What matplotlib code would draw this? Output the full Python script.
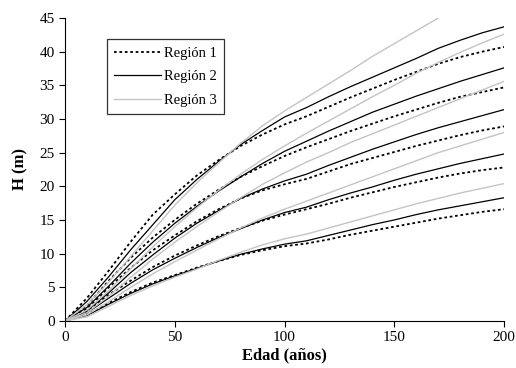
import numpy as np
import matplotlib
matplotlib.use("Agg")
import matplotlib.pyplot as plt

plt.rcParams['font.family'] = ['Liberation Serif', 'DejaVu Serif']

# age (years)
edad = [0, 10, 20, 30, 40, 50, 60, 70, 80, 90, 100,
        110, 120, 130, 140, 150, 160, 170, 180, 190, 200]

# Region 1 (dotted) - five site index curves, top to bottom
r1_a = [0, 3.4, 7.5, 11.8, 15.8, 18.8, 21.6, 23.9, 26.0, 27.7, 29.2,
        30.4, 31.8, 33.2, 34.5, 35.8, 37.0, 38.2, 39.2, 40.0, 40.7]
r1_b = [0, 2.3, 6.0, 9.4, 12.4, 15.0, 17.4, 19.5, 21.4, 23.0, 24.5,
        25.8, 27.0, 28.2, 29.3, 30.4, 31.4, 32.4, 33.3, 34.0, 34.7]
r1_c = [0, 1.8, 5.0, 7.9, 10.5, 12.7, 14.8, 16.6, 18.2, 19.4, 20.3,
        21.1, 22.2, 23.3, 24.2, 25.1, 26.0, 26.8, 27.6, 28.3, 28.9]
r1_d = [0, 1.4, 3.9, 6.0, 8.0, 9.7, 11.2, 12.6, 13.8, 14.9, 15.8,
        16.6, 17.4, 18.3, 19.1, 19.9, 20.6, 21.3, 21.9, 22.4, 22.8]
r1_e = [0, 0.9, 2.7, 4.3, 5.7, 6.8, 7.9, 8.9, 9.8, 10.5, 11.1,
        11.5, 12.1, 12.8, 13.4, 14.0, 14.6, 15.2, 15.7, 16.2, 16.6]

# Region 2 (solid)
r2_a = [0, 2.9, 6.6, 10.6, 14.3, 18.0, 21.0, 23.7, 26.2, 28.3, 30.3,
        31.7, 33.3, 34.8, 36.2, 37.6, 39.0, 40.5, 41.7, 42.8, 43.7]
r2_b = [0, 2.0, 5.2, 8.6, 11.7, 14.5, 17.0, 19.3, 21.4, 23.4, 25.2,
        26.7, 28.2, 29.6, 31.0, 32.2, 33.4, 34.5, 35.6, 36.6, 37.6]
r2_c = [0, 1.5, 4.2, 7.2, 9.8, 12.3, 14.5, 16.4, 18.2, 19.6, 20.8,
        21.8, 23.1, 24.3, 25.5, 26.6, 27.7, 28.7, 29.6, 30.5, 31.4]
r2_d = [0, 1.2, 3.4, 5.6, 7.6, 9.3, 10.9, 12.4, 13.7, 15.0, 16.1,
        16.9, 18.0, 19.0, 19.9, 20.9, 21.8, 22.6, 23.4, 24.1, 24.8]
r2_e = [0, 0.8, 2.5, 4.1, 5.5, 6.7, 7.8, 8.9, 9.9, 10.7, 11.4,
        11.9, 12.7, 13.5, 14.3, 15.0, 15.8, 16.5, 17.1, 17.7, 18.3]

# Region 3 (grey); top curve stops at 45 m
r3_a = [0, 2.4, 5.8, 9.6, 13.4, 17.2, 20.5, 23.5, 26.4, 29.0, 31.2,
        33.2, 35.2, 37.2, 39.3, 41.2, 43.1, 45.0]
r3_b = [0, 1.6, 4.5, 7.8, 11.0, 14.0, 16.8, 19.4, 21.8, 24.0, 26.0,
        27.9, 29.7, 31.5, 33.3, 35.0, 36.8, 38.4, 39.9, 41.3, 42.6]
r3_c = [0, 1.2, 3.7, 6.5, 9.2, 11.7, 14.0, 16.2, 18.3, 20.3, 22.0,
        23.6, 25.0, 26.5, 27.8, 29.1, 30.4, 31.7, 33.0, 34.3, 35.6]
r3_d = [0, 0.9, 2.9, 5.0, 7.0, 8.8, 10.5, 12.2, 13.8, 15.3, 16.6,
        17.8, 19.0, 20.2, 21.4, 22.6, 23.8, 25.0, 26.0, 27.0, 28.0]
r3_e = [0, 0.6, 2.2, 3.8, 5.2, 6.5, 7.7, 9.0, 10.2, 11.3, 12.2,
        12.9, 13.8, 14.7, 15.6, 16.5, 17.4, 18.2, 19.0, 19.7, 20.4]

regiones = ['Región 1', 'Región 2', 'Región 3']

fig = plt.figure(figsize=(5.16, 3.68), dpi=100)
ax = fig.add_axes([0.126, 0.128, 0.851, 0.823])

sty1 = dict(color='black', lw=1.3, ls=(0, (1.5, 1.5)))
sty2 = dict(color='black', lw=0.9, ls='-')
sty3 = dict(color='#c4c4c4', lw=1.0, ls='-')

handles = []
for sty, curvas in [(sty1, [r1_a, r1_b, r1_c, r1_d, r1_e]),
                    (sty2, [r2_a, r2_b, r2_c, r2_d, r2_e]),
                    (sty3, [r3_a, r3_b, r3_c, r3_d, r3_e])]:
    for i, y in enumerate(curvas):
        l, = ax.plot(edad[:len(y)], y, **sty)
        if i == 0:
            handles.append(l)

ax.set_xlim(0, 200)
ax.set_ylim(0, 45)
ax.set_xticks(np.arange(0, 201, 50))
ax.set_yticks(np.arange(0, 46, 5))
ax.tick_params(direction='out', length=4.5, width=0.8, labelsize=11, pad=3)
for s in ['top', 'right']:
    ax.spines[s].set_visible(False)
ax.set_xlabel('Edad (años)', fontsize=12, fontweight='bold', labelpad=2)
ax.set_ylabel('H (m)', fontsize=12, fontweight='bold', labelpad=8)

leg = ax.legend(handles, regiones, loc='upper left',
                bbox_to_anchor=(0.096, 0.93), fontsize=10.5, frameon=True,
                fancybox=False, edgecolor='black', handlelength=3.2,
                handletextpad=0.2, borderpad=0.5, labelspacing=0.72,
                borderaxespad=0)
leg.get_frame().set_linewidth(0.9)

fig.savefig('out.png', dpi=100)
